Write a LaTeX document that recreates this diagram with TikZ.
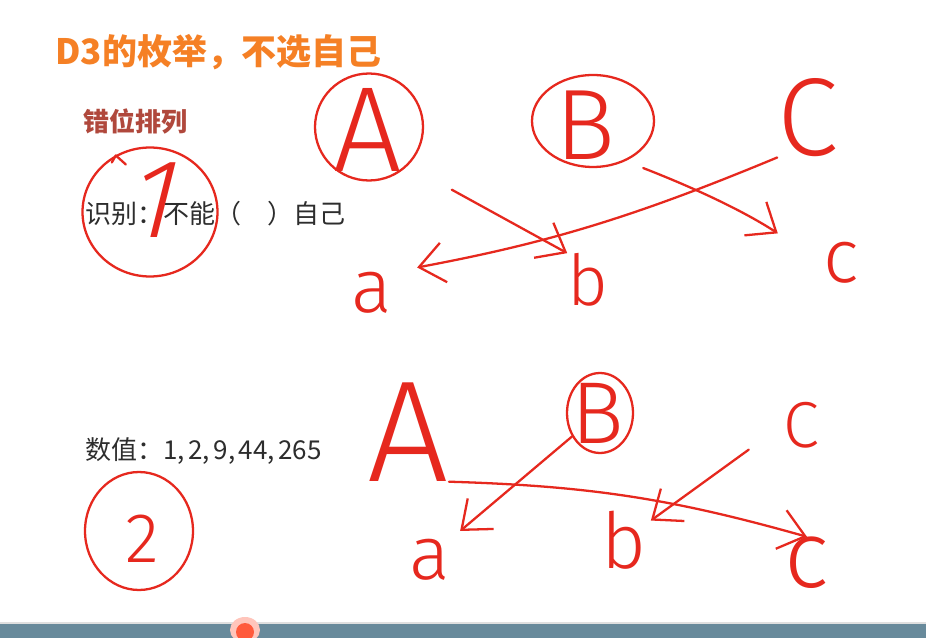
\documentclass[tikz,border=0pt]{standalone}
\usepackage{fontspec}
\usepackage{tikz}
\usetikzlibrary{arrows.meta,shapes.geometric}
\setmainfont{Noto Sans CJK SC}
\IfFontExistsTF{Fira Sans Light}{\newfontfamily\handfont{Fira Sans Light}}{%
 \IfFontExistsTF{Lato Light}{\newfontfamily\handfont{Lato Light}}{%
  \IfFontExistsTF{Open Sans Light}{\newfontfamily\handfont{Open Sans Light}}{%
   \IfFontExistsTF{DejaVu Sans ExtraLight}{\newfontfamily\handfont{DejaVu Sans ExtraLight}}{%
    \newfontfamily\handfont{Fira Sans}}}}}
\definecolor{titleorange}{RGB}{245,128,37}
\definecolor{subred}{RGB}{176,72,60}
\definecolor{bodygray}{RGB}{45,45,45}
\definecolor{penred}{RGB}{230,40,30}
\definecolor{barblue}{RGB}{104,138,155}
\definecolor{dotred}{RGB}{255,90,60}
\tikzset{
  hand/.style={font=\handfont\fontsize{#1}{#1}\selectfont, text=penred, inner sep=0pt},
  ring/.style={draw=penred, line width=1.3pt, ellipse, inner sep=0pt},
  pen/.style={draw=penred, line width=1.3pt, line cap=round, line join=round},
  arr/.style={pen, -{Straight Barb[length=5mm,width=8mm]}},
  slide/.style={font=\fontsize{14.8pt}{15pt}\selectfont, text=bodygray, inner sep=0pt, anchor=west}
}
\begin{document}
\begin{tikzpicture}[x=0.02cm, y=-0.02cm]
\useasboundingbox (0,0) rectangle (926,638);
\fill[white] (0,0) rectangle (926,638);
% slide text
\node[anchor=west, inner sep=0pt, text=titleorange, font=\bfseries\fontsize{19.9pt}{20pt}\selectfont] (title) at (55,52) {D3的枚举，不选自己};
\node[anchor=west, inner sep=0pt, text=subred, font=\bfseries\fontsize{14.8pt}{15pt}\selectfont] (subhead) at (83,122) {错位排列};
\node[slide] (rule) at (85,214) {识别：不能（　）自己};
\node[slide] (values) at (85,451) {数值：1,\kern2pt2,\kern2pt9,\kern2pt44,\kern2pt265};
% circled numbers
\node[hand=64pt, xslant=0.25] (one) at (157,200) {1};
\node[ring, minimum width=2.7cm, minimum height=2.58cm] (ring1) at (150,212) {};
\draw[pen] (ring1.125) ++(0,5) -- ++(4,-7) -- ++(10,9);
\node[hand=40pt] (two) at (142,539) {2};
\node[ring, minimum width=2.16cm, minimum height=2.36cm] (ring2) at (139,531) {};
% upper row
\node[hand=69pt] (A1) at (368,130) {A};
\node[ring, minimum width=2.16cm, minimum height=2.14cm] (ringA) at (369,127) {};
\node[hand=57pt] (B1) at (585,125) {B};
\node[ring, minimum width=2.44cm, minimum height=1.84cm] (ringB) at (593,121) {};
\node[hand=63pt] (C1) at (808,118) {C};
\node[hand=43pt] (a1) at (372,293) {a};
\node[hand=40pt] (b1) at (588,280) {b};
\node[hand=43pt] (c1) at (841,263) {c};
\draw[arr, shorten <=1cm] (ringA.south east) -- (b1.north west);
\draw[arr, shorten >=0.5cm] (C1.south west) to[bend left=6] (a1.north east);
\draw[arr, shorten <=0.38cm, shorten >=1.08cm] (ringB.-51) to[bend left=6] (c1.west);
% lower row
\node[hand=82pt] (A2) at (408,432) {A};
\node[hand=50pt] (B2) at (598,413) {B};
\node[ring, minimum width=1.32cm, minimum height=1.6cm] (ringB2) at (600,413) {};
\node[hand=37pt] (C2) at (801,425) {C};
\node[hand=43pt] (a2) at (430,560) {a};
\node[hand=44pt] (b2) at (624,540) {b};
\node[hand=54pt] (c2) at (807,563) {c};
\draw[arr, shorten >=0.25cm] (ringB2.220) -- (a2.north east);
\draw[arr] (A2.south east) to[bend left=7] (c2.north);
\draw[arr, shorten <=0.84cm, shorten >=0.1cm] (C2.west) -- (b2);
% player bar
\draw[gray!25, line width=0.6pt] (0,623) -- (926,623);
\fill[barblue] (0,624) rectangle (926,638);
\fill[dotred!35] (245,630) ellipse[x radius=15, y radius=13];
\fill[dotred] (245,632) circle[radius=9];
\end{tikzpicture}
\end{document}
